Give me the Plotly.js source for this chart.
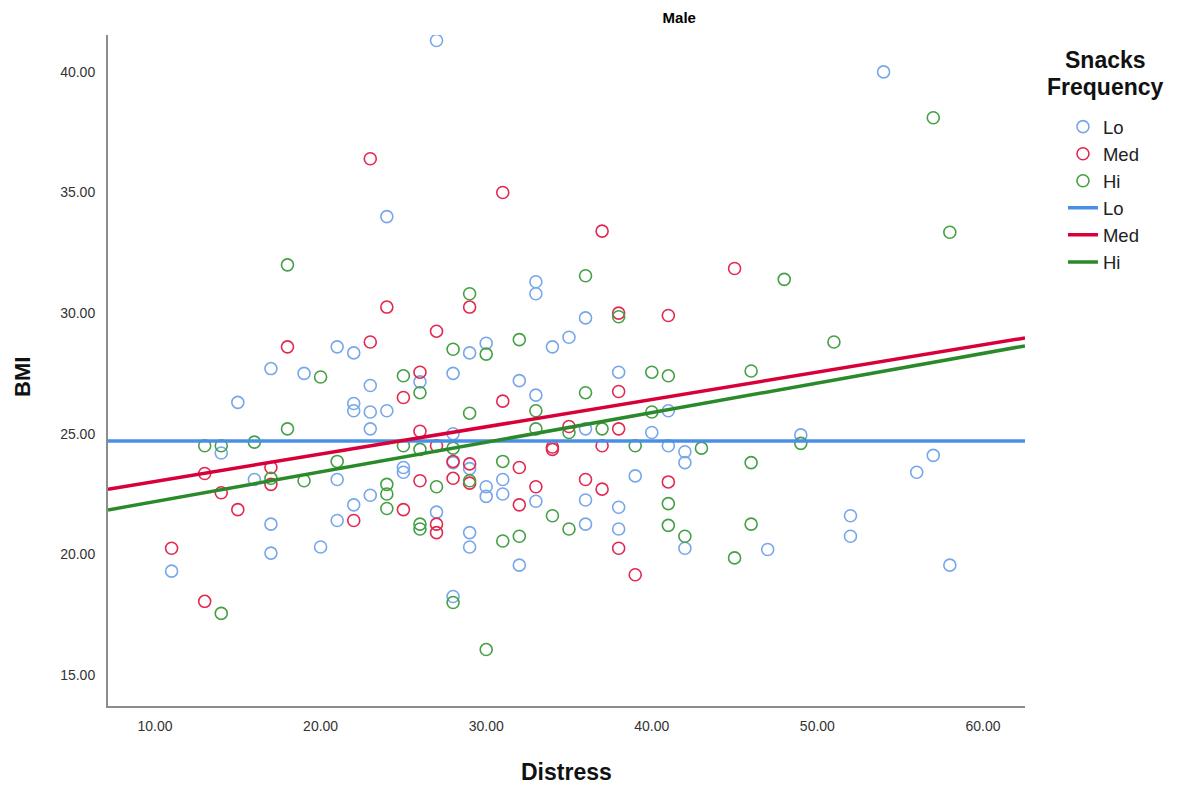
<!DOCTYPE html>
<html>
<head>
<meta charset="utf-8">
<script src="https://cdn.plot.ly/plotly-3.0.1.min.js"></script>
<style>html,body{margin:0;padding:0;background:#fff;}#chart{width:1183px;height:792px;}</style>
</head>
<body>
<div id="chart"></div>
<script>
// ---- Data ----
const loDistress = [27,54,24,33,33,36,35,30,34,21,22,29,17,19,28,38,32,26,23,33,15,22,22,23,24,41,23,36,40,28,49,14,41,42,42,16,25,25,28,29,57,56,39,21,31,30,30,31,23,22,33,36,38,27,17,21,36,38,52,29,29,17,20,42,47,52,32,58,11,28];
const loBMI      = [41.3,40.0,34.0,31.3,30.8,29.8,29.0,28.75,28.6,28.6,28.35,28.35,27.7,27.5,27.5,27.55,27.2,27.15,27.0,26.6,26.3,26.25,25.95,25.9,25.95,25.95,25.2,25.2,25.05,25.0,24.95,24.2,24.5,24.25,23.8,23.1,23.6,23.4,23.8,23.55,24.1,23.4,23.25,23.1,23.1,22.8,22.4,22.5,22.45,22.05,22.2,22.25,21.95,21.75,21.25,21.4,21.25,21.05,21.6,20.9,20.3,20.05,20.3,20.25,20.2,20.75,19.55,19.55,19.3,18.25];

const medDistress = [23,31,37,45,24,29,38,41,27,23,18,26,38,25,31,26,35,38,27,34,34,37,13,17,28,29,32,17,26,28,29,33,36,37,41,14,15,25,22,27,27,32,38,39,11,13];
const medBMI      = [36.4,35.0,33.4,31.85,30.25,30.25,30.0,29.9,29.25,28.8,28.6,27.55,26.75,26.5,26.35,25.1,25.3,25.2,24.5,24.45,24.35,24.5,23.35,23.6,23.85,23.75,23.6,22.9,23.05,23.15,22.95,22.8,23.1,22.7,23.0,22.55,21.85,21.85,21.4,21.25,20.9,22.05,20.25,19.15,20.25,18.05];

const hiDistress = [57,58,18,36,48,29,38,32,51,28,30,46,40,41,25,20,26,36,33,40,29,18,33,35,37,16,13,14,25,26,28,39,43,49,21,31,46,17,19,24,29,27,24,41,24,34,26,26,35,41,46,31,32,42,45,28,14,30];
const hiBMI      = [38.1,33.35,32.0,31.55,31.4,30.8,29.85,28.9,28.8,28.5,28.3,27.6,27.55,27.4,27.4,27.35,26.7,26.7,25.95,25.9,25.85,25.2,25.2,25.05,25.2,24.65,24.5,24.5,24.5,24.35,24.4,24.5,24.4,24.6,23.85,23.85,23.8,23.15,23.05,22.9,23.05,22.8,22.5,22.1,21.9,21.6,21.25,21.05,21.05,21.2,21.25,20.55,20.75,20.75,19.85,18.0,17.55,16.05];

// Fit lines (end points across the axis range)
const fitX   = [7.16, 62.54];
const fitLo  = [24.70, 24.70];
const fitMed = [22.70, 28.97];
const fitHi  = [21.84, 28.64];

const groupNames = ['Lo', 'Med', 'Hi'];
const legendTitleLines = ['Snacks', 'Frequency'];
const xTicks = [10, 20, 30, 40, 50, 60];
const yTicks = [15, 20, 25, 30, 35, 40];

// ---- Styles ----
const markerColors = ['#77a7ea', '#e2294f', '#45a045'];
const lineColors   = ['#4a8fe6', '#d9003a', '#2a8a2a'];
const FONT = '"Liberation Sans", Arial, sans-serif';

function scatter(x, y, i) {
  return {
    type: 'scatter', mode: 'markers', x: x, y: y, name: groupNames[i],
    marker: {symbol: 'circle-open', size: 12, color: markerColors[i], line: {width: 1.6, color: markerColors[i]}},
    hoverinfo: 'x+y'
  };
}
function fit(y, i) {
  return {
    type: 'scatter', mode: 'lines', x: fitX, y: y, name: groupNames[i],
    line: {color: lineColors[i], width: 3.5}, hoverinfo: 'skip'
  };
}

const data = [
  scatter(loDistress, loBMI, 0),
  scatter(medDistress, medBMI, 1),
  scatter(hiDistress, hiBMI, 2),
  fit(fitLo, 0), fit(fitMed, 1), fit(fitHi, 2)
];

const annotations = [
  {text: '<b>BMI</b>', xref: 'paper', yref: 'paper', x: -0.094, y: 0.49, xanchor: 'center', yanchor: 'middle',
   textangle: -90, showarrow: false, font: {size: 22, family: FONT, color: '#111'}},
  {text: '<b>Distress</b>', xref: 'paper', yref: 'paper', x: 0.5, y: -0.098, xanchor: 'center', yanchor: 'middle',
   showarrow: false, font: {size: 23, family: FONT, color: '#111'}}
];
legendTitleLines.forEach(function (t, k) {
  annotations.push({text: '<b>' + t + '</b>', xref: 'paper', yref: 'paper',
    x: (1105 - 108) / 917, y: 1 - (60 + 27 * k - 35) / 671, xanchor: 'center', yanchor: 'middle',
    showarrow: false, font: {size: 23, family: FONT, color: '#111'}});
});

const layout = {
  width: 1183, height: 792,
  margin: {l: 108, r: 158, t: 35, b: 86},
  paper_bgcolor: '#ffffff', plot_bgcolor: '#ffffff',
  font: {family: FONT, color: '#222'},
  showlegend: true,
  title: {text: '<b>Male</b>', font: {size: 15, family: FONT, color: '#000'},
          xref: 'paper', x: 0.623, xanchor: 'center', yref: 'container', y: 0.977, yanchor: 'middle'},
  xaxis: {
    range: [7.16, 62.54], tickvals: xTicks, tickformat: '.2f',
    showgrid: false, zeroline: false, showline: true, linecolor: '#8c8c8c', linewidth: 2,
    ticks: 'outside', ticklen: 6, tickcolor: 'rgba(0,0,0,0)',
    tickfont: {size: 14, family: FONT, color: '#333'}
  },
  yaxis: {
    range: [13.71, 41.53], tickvals: yTicks, tickformat: '.2f',
    showgrid: false, zeroline: false, showline: true, linecolor: '#8c8c8c', linewidth: 2,
    ticks: 'outside', ticklen: 8, tickcolor: 'rgba(0,0,0,0)',
    tickfont: {size: 14, family: FONT, color: '#333'}
  },
  legend: {
    x: 1.0414, xanchor: 'left', y: 0.891, yanchor: 'top',
    bgcolor: 'rgba(0,0,0,0)', borderwidth: 0,
    font: {size: 18.5, family: FONT, color: '#222'},
    itemwidth: 30, tracegroupgap: 0
  },
  annotations: annotations
};

Plotly.newPlot('chart', data, layout, {displayModeBar: false, responsive: false});
</script>
</body>
</html>
